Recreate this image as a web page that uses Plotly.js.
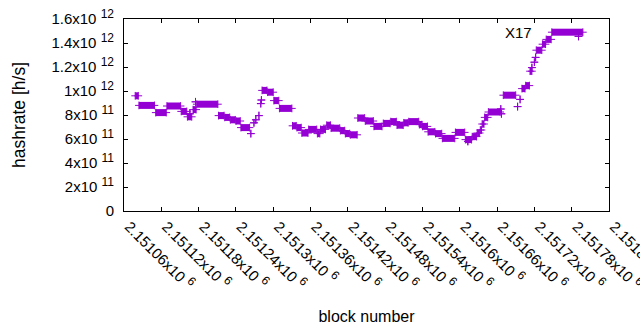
<!DOCTYPE html>
<html><head><meta charset="utf-8">
<script src="https://cdn.plot.ly/plotly-3.0.1.min.js"></script>
<style>body{margin:0;background:#fff}#chart{width:640px;height:330px}</style>
</head><body><div id="chart"></div>
<script>
const seriesName = "X17";
// runs of blocks with the same hashrate estimate (start block, end block, value in h/s)
const runStart = [2151078,2151084,2151111,2151129,2151152,2151162,2151166,2151171,2151175,2151177,
  2151212,2151222,2151231,2151240,2151248,2151264,2151269,2151272,2151277,2151280,
  2151281,2151282,2151291,2151301,2151310,2151331,2151338,2151346,2151357,2151371,
  2151376,2151386,2151393,2151408,2151416,2151424,2151436,2151448,2151462,2151477,
  2151489,2151499,2151510,2151518,2151535,2151540,2151549,2151561,2151572,2151593,
  2151609,2151613,2151620,2151628,2151633,2151636,2151640,2151646,2151666,2151667,
  2151670,2151693,2151697,2151700,2151706,2151713,2151716,2151720,2151722,2151723,
  2151733,2151739,2151748,2151791];
const runEnd = [2151083,2151109,2151128,2151151,2151161,2151169,2151166,2151176,2151175,2151211,
  2151221,2151230,2151239,2151247,2151262,2151264,2151269,2151272,2151277,2151280,
  2151281,2151290,2151300,2151309,2151330,2151337,2151345,2151356,2151370,2151375,
  2151384,2151392,2151407,2151415,2151423,2151435,2151447,2151461,2151475,2151488,
  2151498,2151509,2151517,2151534,2151539,2151548,2151560,2151571,2151592,2151608,
  2151619,2151613,2151627,2151632,2151635,2151639,2151645,2151665,2151666,2151667,
  2151690,2151693,2151697,2151705,2151712,2151716,2151716,2151720,2151722,2151732,
  2151738,2151747,2151798,2151791];
const hashrate = [9.6e11,8.8e11,8.2e11,8.75e11,8.3e11,7.85e11,8.1e11,8.45e11,9.1e11,8.9e11,
  7.95e11,7.8e11,7.6e11,7.5e11,6.95e11,6.45e11,7.35e11,7.6e11,7.95e11,8.95e11,
  9.25e11,1.005e12,9.9e11,9.2e11,8.55e11,7.1e11,6.95e11,6.5e11,6.8e11,6.45e11,
  6.8e11,7.15e11,6.9e11,6.7e11,6.45e11,6.35e11,7.75e11,7.5e11,7.05e11,7.3e11,
  7.45e11,7.15e11,7.35e11,7.45e11,7.2e11,7.05e11,6.6e11,6.45e11,6.05e11,6.55e11,
  5.95e11,5.8e11,6.2e11,6.5e11,6.75e11,7.25e11,7.8e11,8.25e11,8.5e11,8.1e11,
  9.65e11,8.7e11,9.3e11,1.02e12,1.045e12,1.165e12,1.195e12,1.24e12,1.28e12,1.34e12,
  1.39e12,1.43e12,1.49e12,1.455e12];

const xTickVals = [2151060,2151120,2151180,2151240,2151300,2151360,2151420,2151480,2151540,2151600,2151660,2151720,2151780,2151840];
const xTickMant = ["2.15106","2.15112","2.15118","2.15124","2.1513","2.15136","2.15142","2.15148","2.15154","2.1516","2.15166","2.15172","2.15178","2.15184"];
const yTickVals = [0,2e11,4e11,6e11,8e11,1e12,1.2e12,1.4e12,1.6e12];
const yTickMant = ["0","2","4","6","8","1","1.2","1.4","1.6"];
const yTickExp = ["","11","11","11","11","12","12","12","12"];

const sup = e => "x10 <sup><span style='font-size:12px'>" + e + "</span></sup>";
const xTickText = xTickMant.map(m => m + sup("6"));
const yTickText = yTickMant.map((m, i) => yTickExp[i] ? m + sup(yTickExp[i]) : m);

const xs = [], ys = [];
for (let i = 0; i < runStart.length; i++) {
  xs.push(runStart[i], runEnd[i], null);
  ys.push(hashrate[i], hashrate[i], null);
}
const color = "#9400d3";
const trace = {
  x: xs, y: ys, type: "scatter", mode: "lines+markers", name: seriesName,
  connectgaps: false, showlegend: false,
  line: {color: color, width: 7},
  marker: {symbol: "cross-thin", size: 5.5, color: color, line: {color: color, width: 1}}
};
const fam = "Liberation Sans, Arial, sans-serif";
const tickFont = {family: fam, size: 15, color: "#000"};
const layout = {
  width: 640, height: 330,
  margin: {l: 124, r: 31, t: 19, b: 119},
  paper_bgcolor: "#fff", plot_bgcolor: "#fff",
  font: tickFont,
  showlegend: false,
  xaxis: {
    range: [2151060, 2151840], tickmode: "array", tickvals: xTickVals, ticktext: xTickText,
    tickangle: 45, ticks: "inside", ticklen: 4, tickcolor: "#000", showline: true, linecolor: "#000",
    linewidth: 1, mirror: "ticks", showgrid: false, zeroline: false, tickfont: tickFont,
    ticklabeloverflow: "allow", ticklabelshift: 5,
    title: {text: "block number", font: {family: fam, size: 16, color: "#000"}, standoff: 18}
  },
  yaxis: {
    range: [0, 1.6e12], tickmode: "array", tickvals: yTickVals, ticktext: yTickText,
    ticks: "inside", ticklen: 4, tickcolor: "#000", showline: true, linecolor: "#000",
    linewidth: 1, mirror: "ticks", showgrid: false, zeroline: false, tickfont: tickFont,
    ticklabelstandoff: 6,
    title: {text: "hashrate [h/s]", font: {family: fam, size: 17.5, color: "#000"}, standoff: 21}
  },
  annotations: [{
    text: seriesName, xref: "paper", yref: "paper", x: 0.845, y: 0.932,
    xanchor: "right", yanchor: "middle", showarrow: false, font: tickFont
  }]
};
Plotly.newPlot("chart", [trace], layout, {displayModeBar: false, staticPlot: true});
</script>
</body></html>
